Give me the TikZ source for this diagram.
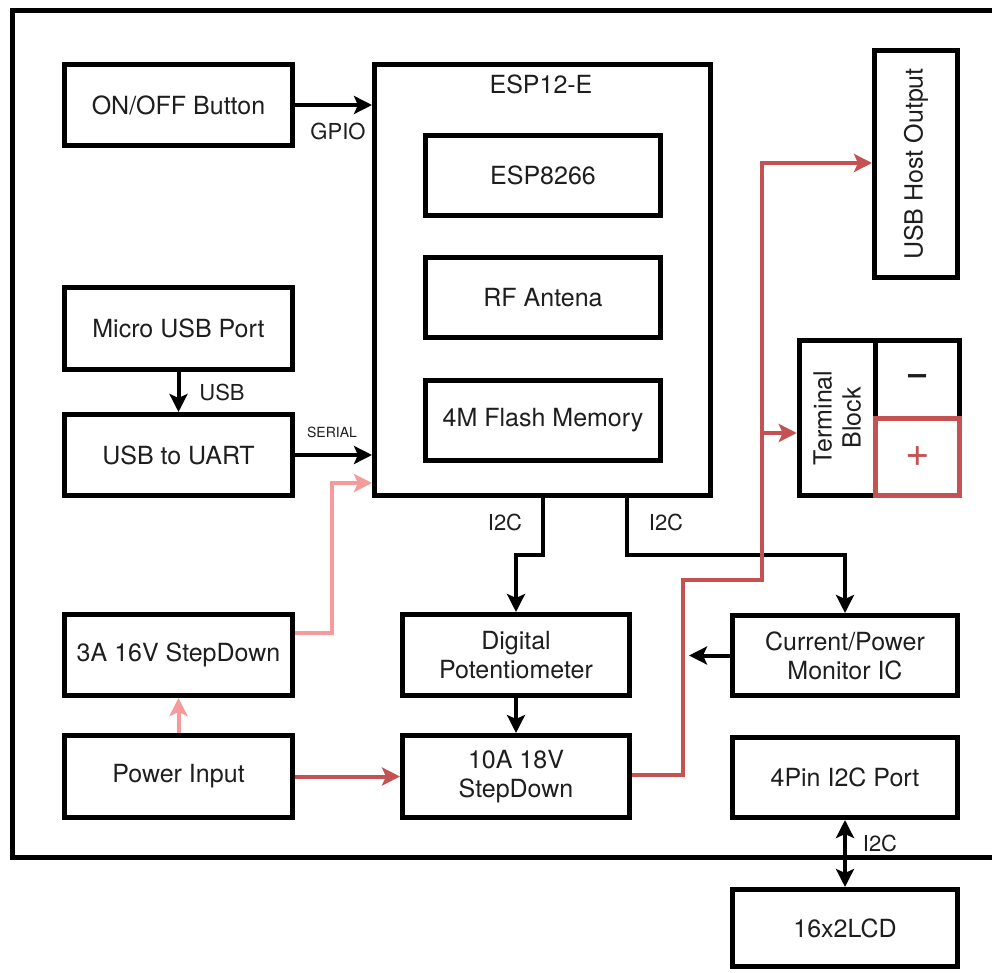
\documentclass[tikz,border=0pt]{standalone}
\usepackage{fontspec}
\setmainfont{TeX Gyre Heros}
\usetikzlibrary{arrows.meta}
\definecolor{pwred}{RGB}{196,82,82}
\definecolor{pwpink}{RGB}{245,155,155}
\definecolor{txt}{RGB}{30,30,30}
\begin{document}
\begin{tikzpicture}[x=1pt,y=-1pt,
  blk/.style={draw=black,line width=5pt,inner sep=2pt,text=txt,font=\fontsize{25}{29}\selectfont,align=center},
  lbl/.style={text=txt,font=\fontsize{22}{26}\selectfont,inner sep=0pt},
  tip/.style={-{Stealth[length=18pt,width=18pt,inset=4pt]}},
  conn/.style={draw=black,line width=4pt,tip},
  pwr/.style={draw=pwred,line width=4pt,tip},
  aux/.style={draw=pwpink,line width=4pt,tip}]
\useasboundingbox (0,0) rectangle (992,973);
\fill[white] (0,0) rectangle (992,973);
\clip (0,0) rectangle (992,973);
% outer frame
\draw[line width=5pt] (12.5,10.5) rectangle (1010,857.5);
% left column
\node[blk,minimum width=228pt,minimum height=81pt] (onoff) at (178.5,105) {ON/OFF Button};
\node[blk,minimum width=228pt,minimum height=82pt] (microusb) at (178.5,328.5) {Micro USB Port};
\node[blk,minimum width=228pt,minimum height=81pt] (uart) at (178.5,455) {USB to UART};
\node[blk,minimum width=228pt,minimum height=81pt] (stepdown3) at (178.5,655) {3A 16V StepDown};
\node[blk,minimum width=228pt,minimum height=82pt] (powerin) at (178.5,776.5) {Power Input};
% ESP module
\node[blk,minimum width=336pt,minimum height=431pt] (esp) at (542.5,280) {};
\node[lbl,font=\fontsize{25}{29}\selectfont] (esptitle) at (541,84) {ESP12-E};
\node[blk,minimum width=235pt,minimum height=80pt] (esp8266) at (543,175.5) {ESP8266};
\node[blk,minimum width=235pt,minimum height=80pt] (rf) at (543,297.5) {RF Antena};
\node[blk,minimum width=235pt,minimum height=80pt] (flash) at (543,420.5) {4M Flash Memory};
% middle bottom
\node[blk,minimum width=227pt,minimum height=81pt] (digpot) at (516,655) {Digital\\Potentiometer};
\node[blk,minimum width=227pt,minimum height=82pt] (step10) at (516,776.5) {10A 18V\\StepDown};
% right column
\node[blk,minimum width=83pt,minimum height=227pt] (usbhost) at (916,164) {};
\node[rotate=90,text=txt,font=\fontsize{25}{29}\selectfont] (usbhosttext) at (usbhost.center) {USB Host Output};
\node[blk,minimum width=76pt,minimum height=155pt] (tb) at (837.25,418) {};
\node[rotate=90,text=txt,font=\fontsize{25}{29}\selectfont,align=center] (tbtext) at (tb.center) {Terminal\\Block};
\node[blk,minimum width=84.5pt,minimum height=77.5pt] (tbminus) at (917.25,379.25) {\fontsize{32}{34}\selectfont\bfseries –};
\node[blk,draw=pwred,text=pwred,minimum width=84.5pt,minimum height=77.5pt,font=\fontsize{42}{44}\selectfont] (tbplus) at (917.25,456.75) {+};
\node[blk,minimum width=225pt,minimum height=80pt] (cpm) at (845,655.5) {Current/Power\\Monitor IC};
\node[blk,minimum width=225pt,minimum height=80pt] (i2cport) at (845,777.5) {4Pin I2C Port};
\node[blk,minimum width=225pt,minimum height=77pt] (lcd) at (845,928) {16x2LCD};
% signal connectors
\draw[conn] (onoff.east) -- (onoff.east -| esp.west);
\node[lbl] (gpio) at (338,131) {GPIO};
\draw[conn] (microusb.south) -- (uart.north);
\node[lbl] (usblbl) at (222,392) {USB};
\draw[conn] (uart.east) -- (uart.east -| esp.west);
\node[lbl,font=\fontsize{14}{16}\selectfont] (serial) at (332,432) {SERIAL};
\coordinate (q1) at (543,555);
\coordinate (q2) at (516,555);
\coordinate (q3) at (627,555);
\draw[conn] (q1 |- esp.south) -- (q1) -- (q2) -- (digpot.north);
\node[lbl] (i2ca) at (505,522) {I2C};
\draw[conn] (q3 |- esp.south) -- (q3) -- (q3 -| cpm.north) -- (cpm.north);
\node[lbl] (i2cb) at (666,522) {I2C};
\draw[conn] (digpot.south) -- (step10.north);
% power connectors
\coordinate (p1) at (332,633);
\coordinate (p2) at (332,483);
\draw[aux] (p1 -| stepdown3.east) -- (p1) -- (p2) -- (p2 -| esp.west);
\draw[aux] (powerin.north) -- (stepdown3.south);
\draw[pwr] (powerin.east) -- (step10.west);
\coordinate (r1) at (683,775);
\coordinate (r2) at (683,580);
\coordinate (r3) at (762,580);
\coordinate (r4) at (762,163);
\coordinate (r5) at (762,433);
\draw[pwr] (r1 -| step10.east) -- (r1) -- (r2) -- (r3) -- (r4) -- (r4 -| usbhost.west);
\draw[pwr] (r5) -- (r5 -| tb.west);
\draw[conn] (cpm.west) -- ([xshift=6pt]cpm.west -| r1);
% I2C to LCD
\draw[conn,{Stealth[length=18pt,width=18pt,inset=4pt]}-{Stealth[length=18pt,width=18pt,inset=4pt]}] (i2cport.south) -- (lcd.north);
\node[lbl] (i2cc) at (880,843) {I2C};
\end{tikzpicture}
\end{document}
